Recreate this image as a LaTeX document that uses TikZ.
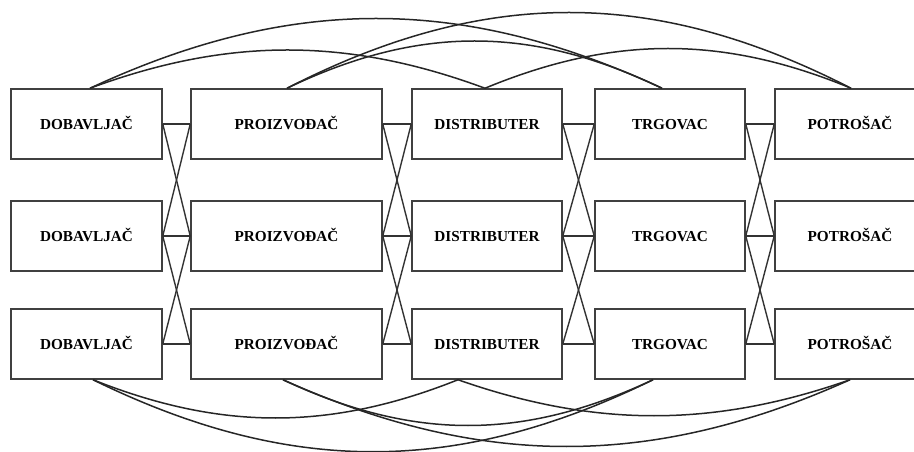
\documentclass[tikz,border=0pt]{standalone}
\usepackage{fontspec}
\setmainfont{Liberation Serif}
\begin{document}
\begin{tikzpicture}[x=1bp,y=-1bp,
  box/.style={draw=black!75,line width=1.5bp,minimum height=70bp,inner sep=0pt,
    text height=10.5bp,text depth=0bp,
    font=\fontsize{15.3}{18}\selectfont\bfseries,text=black},
  link/.style={draw=black!80,line width=1.4bp},
  arc/.style={draw=black!85,line width=1.5bp}]
\useasboundingbox (0,0) rectangle (914,452);
\begin{scope}
\clip (0,0) rectangle (914,452);
\foreach \r/\y in {1/124,2/236,3/344}{
  \node[box,minimum width=151bp] (d\r) at (86.5,\y) {DOBAVLJAČ};
  \node[box,minimum width=191bp] (p\r) at (286.5,\y) {PROIZVOĐAČ};
  \node[box,minimum width=150bp] (di\r) at (487,\y) {DISTRIBUTER};
  \node[box,minimum width=150bp] (t\r) at (670,\y) {TRGOVAC};
  \node[box,minimum width=150bp] (po\r) at (850,\y) {POTROŠAČ};
}
\foreach \a/\b in {d/p,p/di,di/t,t/po}{
  \foreach \r in {1,2,3}{ \draw[link] (\a\r.east) -- (\b\r.west); }
  \draw[link] (\a1.east) -- (\b2.west);
  \draw[link] (\a2.east) -- (\b1.west);
  \draw[link] (\a2.east) -- (\b3.west);
  \draw[link] (\a3.east) -- (\b2.west);
}
% top arcs
\draw[arc] ([xshift=3.5bp]d1.north) .. controls +(138,-51) and +(-138,-51) .. ([xshift=-2bp]di1.north);
\draw[arc] ([xshift=3.5bp]d1.north) .. controls +(200,-93) and +(-200,-93) .. ([xshift=-8bp]t1.north);
\draw[arc] ([xshift=0.5bp]p1.north) .. controls +(131,-63) and +(-131,-63) .. ([xshift=-8bp]t1.north);
\draw[arc] ([xshift=0.5bp]p1.north) .. controls +(197,-101) and +(-197,-101) .. ([xshift=1bp]po1.north);
\draw[arc] ([xshift=-2bp]di1.north) .. controls +(128,-53) and +(-128,-53) .. ([xshift=1bp]po1.north);
% bottom arcs
\draw[arc] ([xshift=6.5bp]d3.south) .. controls +(128,51) and +(-128,51) .. ([xshift=-29bp]di3.south);
\draw[arc] ([xshift=6.5bp]d3.south) .. controls +(196,96) and +(-196,96) .. ([xshift=-17bp]t3.south);
\draw[arc] ([xshift=-3.5bp]p3.south) .. controls +(130,61) and +(-130,61) .. ([xshift=-17bp]t3.south);
\draw[arc] ([xshift=-3.5bp]p3.south) .. controls +(198,89) and +(-198,89) .. (po3.south);
\draw[arc] ([xshift=-29bp]di3.south) .. controls +(137,48) and +(-137,48) .. (po3.south);
\end{scope}
\end{tikzpicture}
\end{document}
